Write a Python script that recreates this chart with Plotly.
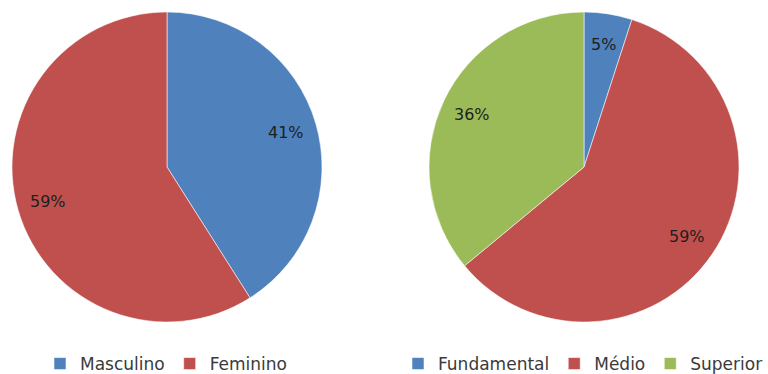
import math
import plotly.graph_objects as go

# Sexo
sexo_labels = ["Masculino", "Feminino"]
sexo_values = [41, 59]
# Escolaridade
escol_labels = ["Fundamental", "Médio", "Superior"]
escol_values = [5, 59, 36]

colors = {
    "Masculino": "#4F81BD", "Feminino": "#C0504D",
    "Fundamental": "#4F81BD", "Médio": "#C0504D", "Superior": "#9BBB59",
}

W, H = 768, 374
R = 155  # pie radius in px
centers = [(167, 167), (584, 167)]
FONT = "DejaVu Sans"


def domain(cx, cy, r):
    return dict(x=[(cx - r) / W, (cx + r) / W],
                y=[1 - (cy + r) / H, 1 - (cy - r) / H])


fig = go.Figure()
datasets = [(sexo_labels, sexo_values, "legend"), (escol_labels, escol_values, "legend2")]
annotations = []
for (labels, values, leg), (cx, cy) in zip(datasets, centers):
    fig.add_trace(go.Pie(
        labels=labels, values=values, sort=False, direction="clockwise",
        rotation=0, textinfo="none", hoverinfo="label+percent",
        marker=dict(colors=[colors[l] for l in labels],
                    line=dict(color="rgba(255,255,255,0.55)", width=1)),
        domain=domain(cx, cy, R), legend=leg, showlegend=True,
    ))
    # percentage labels placed at 80% of the radius along each slice bisector
    total = sum(values)
    cum = 0
    for v in values:
        mid = (cum + v / 2) / total
        cum += v
        theta = math.radians(90 - 360 * mid)
        px = cx + 0.8 * R * math.cos(theta)
        py = cy - 0.8 * R * math.sin(theta)
        annotations.append(dict(
            x=px / W, y=1 - py / H, xref="paper", yref="paper",
            xanchor="center", yanchor="middle",
            text=f"{round(100 * v / total)}%", showarrow=False,
            font=dict(family=FONT, size=16, color="#1e1e1e"),
        ))

legend_style = dict(orientation="h", yanchor="middle", xanchor="center",
                    font=dict(family=FONT, size=17, color="#3a3a3a"),
                    bgcolor="rgba(0,0,0,0)", itemclick=False, itemdoubleclick=False,
                    tracegroupgap=0)

fig.update_layout(
    width=W, height=H,
    margin=dict(l=0, r=0, t=0, b=0, autoexpand=False),
    paper_bgcolor="white", plot_bgcolor="white",
    annotations=annotations,
    legend=dict(x=166 / W, y=1 - 364 / H, **legend_style),
    legend2=dict(x=583 / W, y=1 - 364 / H, **legend_style),
)

fig.write_html("out.html")
